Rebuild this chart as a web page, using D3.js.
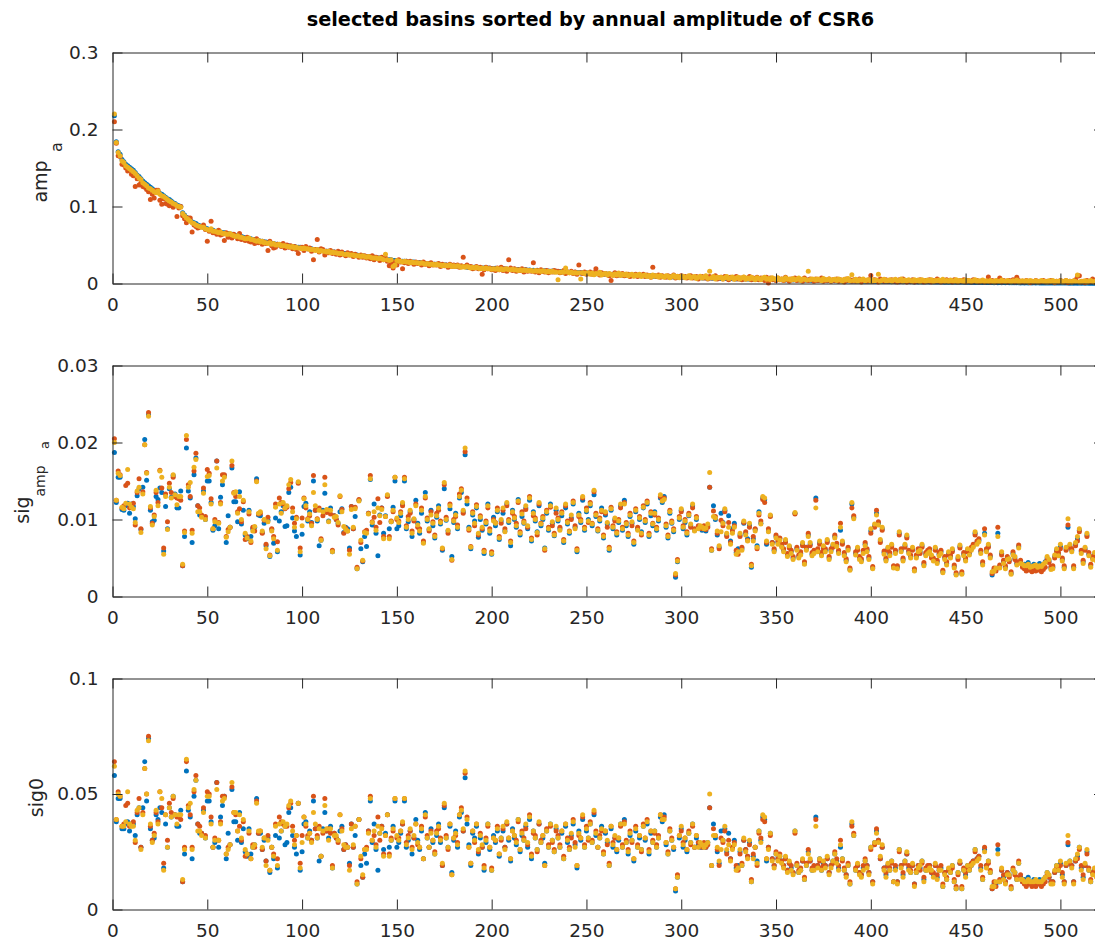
<!DOCTYPE html>
<html><head><meta charset="utf-8">
<script src="https://cdn.jsdelivr.net/npm/d3@7/dist/d3.min.js"></script>
<style>body{margin:0;background:#fff}svg{display:block}</style>
</head><body>
<svg id="chart" width="1095" height="942"></svg>
<script>
// ---- data ----
const titleText = "selected basins sorted by annual amplitude of CSR6";
const xTickValues = [0,50,100,150,200,250,300,350,400,450,500];
const seriesNames = ["blue","red","yellow"];

// amp_a, units of 1e-3
const ampBlue = [
218,184,171,168,161,158,155,153,151,149,
147,144,141,139,136,133,131,129,127,125,
123,121,120,119,117,116,114,112,110,109,
107,105,104,102,101,100,92,89,86,84,
82,80,79,78,76,75,74,73,72,71,
70,70,69,68,68,67,67,66,66,65,
65,64,64,63,62,62,61,61,60,59,
59,58,58,57,57,56,56,55,55,54,
54,53,53,52,52,51,51,50,50,50,
49,49,49,48,48,48,47,47,47,46,
46,46,45,45,45,44,44,44,43,43,
43,42,42,42,41,41,41,40,40,40,
39,39,39,38,38,38,37,37,37,36,
36,36,35,35,35,34,34,34,33,33,
33,32,32,32,31,31,31,30,30,30,
30,29,29,29,29,28,28,28,28,27,
27,27,27,26,26,26,26,25,25,25,
25,25,24,24,24,24,23,23,23,23,
23,22,22,22,22,22,21,21,21,21,
21,21,20,20,20,20,20,20,19.8,19.6,
19.5,19.8,19.0,19.4,18.7,19.1,18.6,18.9,18.3,18.6,
18.2,18.5,17.9,18.3,17.7,18.1,17.4,17.8,17.2,17.6,
17.0,17.3,16.7,17.1,16.4,16.9,16.1,16.6,15.9,16.3,
15.6,16.1,15.3,15.8,15.1,15.5,14.8,15.3,14.6,15.0,
14.3,14.8,14.1,14.5,13.8,14.3,13.6,14.0,13.3,13.8,
13.1,13.6,12.9,13.3,12.6,13.1,12.4,12.8,12.1,12.6,
11.9,12.4,11.7,12.1,11.4,11.9,11.2,11.7,11.0,11.4,
10.8,11.2,10.6,11.0,10.4,10.8,10.2,10.6,10.0,10.4,
9.8,10.2,9.6,10.0,9.4,9.8,9.2,9.6,9.0,9.4,
8.9,9.2,8.7,9.0,8.5,8.9,8.3,8.7,8.2,8.5,
8.0,8.4,7.9,8.2,7.7,8.1,7.6,7.9,7.4,7.8,
7.3,7.6,7.1,7.5,7.0,7.3,6.8,7.2,6.7,7.0,
6.6,6.9,6.4,6.8,6.3,6.6,6.2,6.5,6.0,6.4,
5.9,6.2,5.8,6.1,5.7,6.0,5.6,5.9,5.5,5.8,
5.4,5.7,5.3,5.6,5.2,5.5,5.1,5.4,5.0,5.3,
4.9,5.2,4.8,5.1,4.7,5.0,4.6,4.9,4.5,4.8,
4.4,4.7,4.3,4.6,4.2,4.5,4.1,4.4,4.0,4.3,
3.9,4.2,3.8,4.1,3.7,4.0,3.6,3.9,3.5,3.8,
3.5,3.7,3.4,3.6,3.3,3.6,3.2,3.5,3.1,3.4,
3.1,3.3,3.0,3.3,2.9,3.2,2.8,3.1,2.8,3.0,
2.7,3.0,2.6,2.9,2.6,2.8,2.5,2.8,2.5,2.7,
2.4,2.7,2.4,2.6,2.3,2.6,2.3,2.5,2.2,2.5,
2.2,2.4,2.1,2.4,2.1,2.3,2.0,2.3,2.0,2.2,
1.9,2.2,1.9,2.1,1.8,2.1,1.8,2.0,1.7,2.0,
1.7,1.9,1.6,1.9,1.6,1.8,1.5,1.8,1.5,1.7,
1.5,1.7,1.4,1.6,1.4,1.6,1.3,1.5,1.3,1.5,
1.2,1.4,1.2,1.4,1.1,1.3,1.1,1.3,1.0,1.2,
1.0,1.2,1.0,1.1,0.9,1.1,0.9,1.0,0.8,1.0,
0.8,1.0,0.8,0.9,0.7,0.9,0.7,0.9,0.7,0.8,
0.6,0.8,0.6,0.8,0.6,0.7,0.5,0.7,0.5,0.7,
0.5,0.6,0.5,0.6,0.4,0.6,0.4,0.5,0.4,0.5,
0.4,0.5,0.3,0.5,0.3,0.4,0.3,0.4,0.3,0.4];

const ampRed = [
210,182,166,165,155,154,150,146,147,142,
140,126,136,128,131,126,125,122,119,109,
116,111,121,121,108,103,110,104,103,101,
104,99,101,87,98,100,88,84,79,85,
85,67,76,74,72,73,74,76,70,55,
68,81,66,67,64,69,63,64,56,66,
60,63,59,64,61,58,65,57,58,56,
60,55,54,56,52,58,53,55,51,54,
52,43,55,49,46,47,51,50,48,52,
46,50,47,49,45,48,44,39,46,47,
43,48,45,46,42,31,44,57,41,45,
44,37,42,40,43,39,41,38,42,37,
41,38,36,40,37,39,35,38,36,34,
37,34,36,33,35,32,36,31,34,33,
30,34,31,33,29,23,26,20,28,24,
31,28,19,27,29,26,29,27,25,28,
26,27,24,28,25,26,23,27,24,25,
24,26,22,25,23,24,21,25,22,24,
22,24,21,23,34,22,24,21,22,19,
20,22,19,21,12,18,21,19,20,18,
19,17,20,18,21,17,19,16,31,20,
17,19,16,18,17,19,15,18,16,17,
16,27,15,17,14,18,16,15,17,14,
16,15,17,16,16,14,15,17,13,15,
14,16,13,15,12,24,14,13,15,12,
13,15,12,14,19,13,11,14,12,13,
12,10,4,11,14,10,12,11,13,10,
11,12,9,11,10,12,9,11,10,12,
9,11,10,8,21,10,9,11,8,10,
9,8,10,8,9,11,7,9,8,10,
8,9,7,9,10,7,8,9,6,8,
9,7,8,6,9,7,8,10,6,7,
8,6,9,7,5,8,7,6,9,6,
7,5,8,6,7,9,5,7,6,8,
5,7,6,4,8,0.5,7,5,6,4,
7,5,6,4,8,5,3,6,5,7,
4,6,5,3,7,5,4,6,5,3,
6,4,5,7,3,5,4,6,3,5,
4,6,3,5,4,2,6,4,5,3,
5,3,4,6,2,5,4,3,5,10.5,
3,5,4,2,6,4,3,5,3,4,
5,3,4,2,5,3,6,4,2,4,
3,5,2,4,3,5,4,2,4,3,
5,2,4,3,6,3,2,4,3,5,
3,4,2,5,3,2,4,3,5,2,
4,3,2,5,3,4,2,3,4,2,
3,8.5,2,4,3,2,4,7,2,4,
3,2,4,3,5,2,8,4,2,3,
2,4,3,1,3,2,4,3,2,3,
4,2,3,2,4,3,1,3,2,4,
3,2,4,1,3,2,3,5,9.5,10,
2,3,1,4,2,3,6,2,3,2];

const ampYellow = [
220,183,170,166,159,157,153,151,149,147,
145,143,140,137,135,131,129,127,124,123,
121,119,118,120,116,114,113,111,109,107,
106,104,103,101,100,99,91,88,85,83,
81,79,78,76,75,74,73,73,71,70,
69,71,68,68,67,66,67,65,65,64,
64,65,63,62,61,62,60,60,59,58,
58,59,57,57,56,55,56,54,55,53,
53,52,53,51,52,50,50,51,49,49,
49,48,48,47,48,46,47,46,46,45,
46,45,45,44,44,44,43,44,42,43,
42,42,41,42,40,41,40,40,39,39,
39,38,38,38,37,37,37,36,36,36,
35,36,35,34,35,34,33,33,33,32,
33,32,31,38,31,30,31,22,24,30,
29,29,28,29,28,28,27,28,27,27,
27,26,27,26,25,26,25,25,25,24,
25,24,24,23,24,23,23,24,22,23,
22,23,22,21,22,21,22,21,20,21,
20,21,20,19,20,19,20,19,19,18.5,
19,18.5,19.5,18,19,18,18.5,19,18,18,
18.5,17.5,18,17,18,17,17.5,17,17,16.5,
17,16,17,16,16.5,15.5,16.5,16,15,16,
15,16,15,14.5,5,14.5,15,14.5,20,15,
14,14.5,13.5,14,13.5,14,6,14,13,13.5,
14,12,13.5,11.5,13,12.5,14.5,11,12.5,13,
11,13,12,10.5,12.5,11,13.5,10.5,12,11,
12.5,10,11.5,12,9.5,11,10.5,12,9,10.5,
11,9,10.5,8.5,11,9.5,10,8.5,10.5,9,
8,10,9.5,7.5,9,10.5,8,9.5,7.5,9,
9.5,7.5,8.5,10,7,8.5,9,6.5,8,9.5,
7,8.5,10,6.5,16,7.5,9,6,8,7.5,
8,6,7.5,9,6.5,7,8.5,5.5,7,8,
6,7.5,8.5,5.5,7,6,8,6.5,5,7.5,
6.5,5,7,8,5.5,6.5,5,7.5,6,5.5,
7,5,6,4.5,7.5,5.5,6,4.5,6.5,5,
5.5,7,4,6,5.5,4.5,16,5,6,5.5,
4.5,6,5,3.5,6.5,4.5,5,6,3.5,5,
5.5,4,6,4.5,3,5.5,4.5,6.5,3.5,11.5,
4,5.5,3,5,4.5,6,3.5,4.5,5,3,
5,3.5,4.5,12,3,4.5,5.5,3.5,4,5,
3,4.5,5.5,3.5,4,6,3,4.5,3.5,5,
4,3,5,3.5,4.5,2.5,5,4,3,4.5,
3.5,5,2.5,4,3.5,4.5,3,5.5,3,4,
2.5,4.5,3.5,3,5,2.5,4,3.5,2.5,4.5,
3,4,2.5,3.5,5,2.5,3.5,3,4.5,2.5,
3.5,2.5,4,3,2,4,3,2.5,4.5,3,
2.5,4,3,2,3.5,3,4.5,2,3,3.5,
2.5,3.5,2,4,3,2.5,3.5,2,3,4,
2.5,3,2,3.5,2.5,4,2,3,2.5,3.5,
2,3,4,2.5,3,2,3.5,2.5,11,2,
3,2.5,3.5,2,3,4,2.5,2,3.5,2.5];

// sig_amp_a, units of 1e-4
const sigAmpBlue = [
187,122,155,155,113,112,118,121,108,120,
117,101,131,140,87,142,204,151,236,112,
97,99,130,126,141,135,59,117,88,140,
129,157,133,115,115,137,40,78,193,137,
128,70,158,180,118,106,105,137,100,150,
150,122,86,92,176,88,129,145,157,70,
105,90,167,123,123,97,136,94,112,80,
75,112,78,88,90,153,106,105,83,95,
66,99,52,87,69,102,58,98,110,118,
91,92,135,142,102,85,78,148,54,81,
117,121,98,110,96,150,112,98,66,73,
112,134,110,98,115,58,105,100,95,110,
114,83,90,88,63,117,88,104,36,125,
62,45,78,65,108,152,93,120,82,53,
106,115,82,105,131,88,97,116,150,88,
92,105,120,150,88,97,110,78,100,125,
95,82,108,70,135,98,87,112,92,76,
103,118,94,60,140,99,85,114,52,96,
108,88,128,135,110,184,120,90,62,106,
98,115,77,100,86,56,94,120,82,55,
103,92,110,74,98,108,85,120,96,66,
112,100,90,126,80,104,95,115,88,125,
72,110,98,84,118,92,100,63,108,86,
120,95,79,112,98,88,105,70,115,94,
82,102,120,90,58,108,96,125,86,110,
100,118,92,132,104,85,98,115,76,106,
94,60,112,88,100,80,96,118,86,125,
92,78,104,95,68,110,88,100,84,115,
96,120,78,105,92,110,86,98,128,122,
130,90,76,108,95,84,25,45,100,112,
88,96,80,105,92,118,86,100,90,88,
86,90,85,92,142,60,118,100,80,64,
108,96,112,80,105,72,88,95,57,62,
80,62,95,82,75,93,38,75,87,66,
110,95,128,126,68,85,105,70,60,78,
70,75,66,60,72,54,65,58,50,108,
62,52,56,68,43,62,80,68,55,58,
128,60,70,55,64,60,72,50,60,66,
78,67,58,86,70,55,47,62,35,120,
103,56,62,50,47,58,68,60,50,85,
37,92,108,95,72,88,57,48,62,55,
66,38,58,38,82,60,48,66,78,58,
52,62,34,52,60,58,66,42,55,58,
60,52,48,62,45,55,58,32,50,43,
56,52,60,39,29,50,65,30,55,48,
60,56,62,66,82,70,73,58,43,82,
60,66,52,28,35,35,82,39,56,45,
38,50,47,30,56,50,43,65,45,40,
42,38,44,40,36,42,38,40,43,37,
41,45,50,46,37,38,52,60,55,65,
48,38,62,90,66,60,38,68,75,86,
58,45,62,80,55,40,50,55,48,52];

const sigAmpRed = [
205,125,163,158,115,118,144,147,115,118,
121,93,135,153,88,136,197,161,239,115,
95,106,135,122,164,141,63,133,97,147,
135,155,130,128,127,125,40,85,204,145,
130,86,163,186,118,115,106,141,104,165,
160,127,88,100,176,96,122,158,158,78,
87,90,170,135,130,110,114,97,123,74,
78,107,70,90,85,150,107,108,82,99,
68,103,54,88,78,120,71,128,122,120,
114,116,140,148,115,95,103,147,63,102,
128,115,101,105,95,157,112,101,115,75,
105,155,109,112,107,60,105,100,93,130,
113,82,89,85,60,117,88,116,38,126,
70,46,84,86,108,157,97,103,90,127,
96,115,78,104,130,78,98,110,155,100,
98,110,118,155,92,104,108,85,98,120,
90,88,115,72,128,102,85,110,97,80,
108,112,98,62,145,103,82,120,47,100,
104,93,133,140,108,188,128,86,65,110,
92,119,80,105,88,60,98,115,88,58,
100,96,115,78,95,112,88,118,100,72,
108,104,95,122,84,110,98,113,90,130,
76,105,102,80,120,95,104,60,112,90,
116,92,82,108,102,90,110,74,118,98,
85,100,124,92,62,104,100,128,90,115,
96,122,95,136,108,88,102,110,80,108,
90,64,116,92,98,84,100,115,90,122,
96,82,108,92,72,114,90,104,80,118,
100,124,82,110,95,106,90,102,130,126,
128,94,80,112,98,88,28,48,104,110,
92,100,84,108,90,115,88,104,92,90,
88,92,87,90,142,62,111,104,82,62,
99,92,110,78,96,70,85,92,60,55,
78,64,96,84,73,90,42,78,88,62,
106,98,126,122,70,88,104,70,62,80,
72,76,68,62,70,56,63,60,52,107,
64,54,58,66,45,64,82,66,57,60,
125,62,68,57,62,62,70,52,62,64,
80,69,60,95,68,57,49,64,37,115,
105,58,60,52,49,60,70,62,52,82,
39,90,112,97,70,86,59,50,60,57,
64,40,60,40,80,62,50,64,76,60,
54,60,36,54,62,56,64,44,57,60,
62,50,50,60,47,57,60,34,52,45,
54,54,58,41,31,48,63,32,57,50,
58,58,64,68,80,72,75,60,45,88,
62,64,54,30,37,33,90,41,54,47,
40,52,45,32,58,48,45,67,47,38,
36,33,35,34,32,34,33,35,34,32,
35,38,48,44,39,40,50,58,57,62,
50,40,60,93,64,62,40,66,72,84,
60,47,60,78,57,42,52,53,50,54];

const sigAmpYellow = [
200,125,160,157,116,114,121,165,120,116,
114,96,137,142,83,133,197,160,234,117,
93,104,138,118,163,155,55,130,87,142,
128,158,132,119,130,130,42,83,209,142,
148,82,168,178,110,110,103,134,100,156,
157,120,88,97,167,95,120,150,155,77,
84,90,176,134,136,108,130,100,125,82,
76,110,72,85,91,149,108,110,85,100,
62,97,53,85,75,116,60,120,108,122,
115,118,145,152,110,90,101,149,58,92,
127,118,100,107,92,135,118,100,112,73,
110,145,113,97,112,58,103,104,96,131,
110,91,87,85,55,113,90,114,36,124,
73,47,83,82,107,153,96,110,86,115,
105,113,75,104,132,75,97,112,155,102,
96,108,122,153,90,100,112,82,101,118,
93,85,112,69,130,100,88,106,95,78,
105,115,96,63,148,100,86,118,48,98,
106,90,130,138,112,193,124,88,64,108,
95,117,82,103,90,58,96,118,85,56,
98,95,112,76,100,115,84,122,98,70,
110,102,92,124,82,107,96,118,92,128,
74,108,100,83,122,94,102,62,110,88,
118,97,80,115,100,86,108,72,120,96,
84,106,122,88,60,106,98,130,88,112,
98,120,94,138,106,86,100,112,78,110,
96,62,114,90,102,82,98,120,88,120,
94,80,106,97,70,112,86,102,82,116,
98,122,80,108,94,108,88,100,132,124,
126,92,78,110,96,86,30,46,102,114,
90,98,82,106,94,120,85,102,88,92,
90,88,89,94,161,60,104,102,85,66,
84,95,114,82,90,68,82,90,55,58,
82,60,98,80,72,95,40,72,85,64,
108,94,130,128,72,84,106,68,58,76,
68,73,64,58,74,52,66,56,48,109,
60,50,54,70,42,60,78,70,53,56,
115,58,72,53,66,58,74,48,58,68,
76,65,56,90,72,53,45,60,34,122,
101,54,64,48,45,56,66,58,48,88,
36,94,106,93,74,90,55,46,64,53,
68,37,56,36,84,58,46,68,80,56,
50,64,33,50,58,60,68,40,53,56,
58,54,46,64,43,53,56,31,48,41,
58,50,62,37,28,52,67,29,53,46,
62,54,60,64,84,68,71,56,41,80,
58,68,50,32,33,37,78,37,58,43,
36,48,49,29,54,52,41,63,43,42,
40,40,42,38,39,40,41,38,40,39,
42,44,52,48,35,36,54,62,53,68,
46,36,64,101,68,58,36,70,78,88,
56,43,64,82,53,38,48,57,46,50];

// sig0, units of 1e-3
const sig0Blue = [
58,38,48,48,35,35,37,38,34,37,
37,32,41,44,27,44,64,47,74,35,
30,31,41,39,44,42,18,37,27,44,
40,49,41,36,36,43,12,24,60,43,
40,22,49,56,37,33,33,43,31,47,
47,38,27,29,55,27,40,45,49,22,
33,28,52,38,38,30,42,29,35,25,
23,35,24,27,28,48,33,33,26,30,
21,31,16,27,22,32,18,31,34,37,
28,29,42,44,32,27,24,46,17,25,
37,38,31,34,30,47,35,31,21,23,
35,42,34,31,36,18,33,31,30,34,
36,26,28,27,20,37,27,32,11,39,
19,14,24,20,34,47,29,37,26,17,
33,36,26,33,41,27,30,36,47,27,
29,33,37,47,27,30,34,24,31,39,
30,26,34,22,42,31,27,35,29,24,
32,37,29,19,44,31,27,36,16,30,
34,27,40,42,34,57,37,28,19,33,
31,36,24,31,27,17,29,37,26,17,
32,29,34,23,31,34,27,37,30,21,
35,31,28,39,25,32,30,36,27,39,
22,34,31,26,37,29,31,20,34,27,
37,30,25,35,31,27,33,22,36,29,
26,32,37,28,18,34,30,39,27,34,
31,37,29,41,32,27,31,36,24,33,
29,19,35,27,31,25,30,37,27,39,
29,24,32,30,21,34,27,31,26,36,
30,37,24,33,29,34,27,31,40,38,
41,28,24,34,30,26,8,14,31,35,
27,30,25,33,29,37,27,31,28,27,
27,28,27,29,44,19,37,31,25,20,
34,30,35,25,33,22,27,30,18,19,
25,19,30,26,23,29,12,23,27,21,
34,30,40,39,21,27,33,22,19,24,
22,23,21,19,22,17,20,18,16,34,
19,16,17,21,13,19,25,21,17,18,
40,19,22,17,20,19,22,16,19,21,
24,21,18,27,22,17,15,19,11,37,
32,17,19,16,15,18,21,19,16,27,
12,29,34,30,22,27,18,15,19,17,
21,12,18,12,26,19,15,21,24,18,
16,19,11,16,19,18,21,13,17,18,
19,16,15,19,14,17,18,10,16,13,
17,16,19,12,9,16,20,9,17,15,
19,17,19,21,26,22,23,18,13,26,
19,21,16,9,11,11,26,12,17,14,
12,16,15,9,17,16,13,20,14,12,
13,12,14,12,11,13,12,12,13,12,
13,14,16,14,12,12,16,19,17,20,
15,12,19,28,21,19,12,21,23,27,
18,14,19,25,17,12,16,17,15,16];

const sig0Red = [
64,39,51,49,36,37,45,46,36,37,
38,29,42,48,27,42,61,50,75,36,
30,33,42,38,51,44,20,41,30,46,
42,48,41,40,40,39,12,27,64,45,
41,27,51,58,37,36,33,44,32,51,
50,40,27,31,55,30,38,49,49,24,
27,28,53,42,41,34,36,30,38,23,
24,33,22,28,27,47,33,34,26,31,
21,32,17,27,24,37,22,40,38,37,
36,36,44,46,36,30,32,46,20,32,
40,36,32,33,30,49,35,32,36,23,
33,48,34,35,33,19,33,31,29,41,
35,26,28,27,19,37,27,36,12,39,
22,14,26,27,34,49,30,32,28,40,
30,36,24,32,41,24,31,34,48,31,
31,34,37,48,29,32,34,27,31,37,
28,27,36,22,40,32,27,34,30,25,
34,35,31,19,45,32,26,37,15,31,
32,29,41,44,34,59,40,27,20,34,
29,37,25,33,27,19,31,36,27,18,
31,30,36,24,30,35,27,37,31,22,
34,32,30,38,26,34,31,35,28,41,
24,33,32,25,37,30,32,19,35,28,
36,29,26,34,32,28,34,23,37,31,
27,31,39,29,19,32,31,40,28,36,
30,38,30,42,34,27,32,34,25,34,
28,20,36,29,31,26,31,36,28,38,
30,26,34,29,22,36,28,32,25,37,
31,39,26,34,30,33,28,32,41,39,
40,29,25,35,31,27,9,15,32,34,
29,31,26,34,28,36,27,32,29,28,
27,29,27,28,44,19,35,32,26,19,
31,29,34,24,30,22,27,29,19,17,
24,20,30,26,23,28,13,24,27,19,
33,31,39,38,22,27,32,22,19,25,
22,24,21,19,22,17,20,19,16,33,
20,17,18,21,14,20,26,21,18,19,
39,19,21,18,19,19,22,16,19,20,
25,22,19,30,21,18,15,20,12,36,
33,18,19,16,15,19,22,19,16,26,
12,28,35,30,22,27,18,16,19,18,
20,12,19,12,25,19,16,20,24,19,
17,19,11,17,19,17,20,14,18,19,
19,16,16,19,15,18,19,11,16,14,
17,17,18,13,10,15,20,10,18,16,
18,18,20,21,25,22,23,19,14,27,
19,20,17,9,12,10,28,13,17,15,
12,16,14,10,18,15,14,21,15,12,
11,10,11,11,10,11,10,11,11,10,
11,12,15,14,12,12,16,18,18,19,
16,12,19,29,20,19,12,21,22,26,
19,15,19,24,18,13,16,17,16,17];

const sig0Yellow = [
62,39,50,49,36,36,38,51,37,36,
36,30,43,44,26,41,61,50,73,37,
29,32,43,37,51,48,17,41,27,44,
40,49,41,37,41,41,13,26,65,44,
46,26,52,56,34,34,32,42,31,49,
49,37,27,30,52,30,37,47,48,24,
26,28,55,42,42,34,41,31,39,26,
24,34,22,27,28,46,34,34,27,31,
19,30,17,27,23,36,19,37,34,38,
36,37,45,47,34,28,32,46,18,29,
40,37,31,33,29,42,37,31,35,23,
34,45,35,30,35,18,32,32,30,41,
34,28,27,27,17,35,28,36,11,39,
23,15,26,26,33,48,30,34,27,36,
33,35,23,32,41,23,30,35,48,32,
30,34,38,48,28,31,35,26,32,37,
29,27,35,22,41,31,27,33,30,24,
33,36,30,20,46,31,27,37,15,31,
33,28,41,43,35,60,39,27,20,34,
30,37,26,32,28,18,30,37,27,17,
31,30,35,24,31,36,26,38,31,22,
34,32,29,39,26,33,30,37,29,40,
23,34,31,26,38,29,32,19,34,27,
37,30,25,36,31,27,34,22,37,30,
26,33,38,27,19,33,31,41,27,35,
31,37,29,43,33,27,31,35,24,34,
30,19,36,28,32,26,31,37,27,37,
29,25,33,30,22,35,27,32,26,36,
31,38,25,34,29,34,27,31,41,39,
39,29,24,34,30,27,9,14,32,36,
28,31,26,33,29,37,27,32,27,29,
28,27,28,29,50,19,32,32,27,21,
26,30,36,26,28,21,26,28,17,18,
26,19,31,25,22,30,12,22,27,20,
34,29,41,40,22,26,33,21,18,24,
21,23,20,18,23,16,21,17,15,34,
19,16,17,22,13,19,24,22,17,17,
36,18,22,17,21,18,23,15,18,21,
24,20,17,28,22,17,14,19,11,38,
32,17,20,15,14,17,21,18,15,27,
11,29,33,29,23,28,17,14,20,17,
21,12,17,11,26,18,14,21,25,17,
16,20,10,16,18,19,21,12,17,17,
18,17,14,20,13,17,17,10,15,13,
18,16,19,12,9,16,21,9,17,14,
19,17,19,20,26,21,22,17,13,25,
18,21,16,10,10,12,24,12,18,13,
11,15,15,9,17,16,13,20,13,13,
12,12,13,12,12,12,13,12,12,12,
13,14,16,15,11,11,17,19,17,21,
14,11,20,32,21,18,11,22,24,27,
17,13,20,26,17,12,15,18,14,16];

// ---- drawing ----
const N = ampBlue.length;
const basin = d3.range(1, N + 1);
const colors = ["#0072BD", "#D95319", "#EDB120"];
const ink = "#262626";
const FONT = "'DejaVu Sans', 'Liberation Sans', Arial, sans-serif";

const svg = d3.select("#chart");
const x = d3.scaleLinear().domain([0, 523]).range([112.5, 1104]);

const panels = [
  {top: 52.5, bottom: 283.5, max: 0.3, unit: 1e-3,
   yTicks: [0, 0.1, 0.2, 0.3], yLabels: ["0", "0.1", "0.2", "0.3"],
   data: [ampBlue, ampRed, ampYellow]},
  {top: 365.5, bottom: 596.5, max: 0.03, unit: 1e-4,
   yTicks: [0, 0.01, 0.02, 0.03], yLabels: ["0", "0.01", "0.02", "0.03"],
   data: [sigAmpBlue, sigAmpRed, sigAmpYellow]},
  {top: 678.5, bottom: 909.5, max: 0.1, unit: 1e-3,
   yTicks: [0, 0.05, 0.1], yLabels: ["0", "0.05", "0.1"],
   data: [sig0Blue, sig0Red, sig0Yellow]}
];

function styleAxis(g) {
  g.attr("font-family", FONT).attr("font-size", 18.5).attr("color", ink);
  g.selectAll("path.domain").attr("stroke", ink).attr("stroke-width", 1);
  g.selectAll(".tick line").attr("stroke", ink).attr("stroke-width", 1);
  g.selectAll(".tick text").attr("fill", ink);
}

panels.forEach(p => {
  const y = d3.scaleLinear().domain([0, p.max]).range([p.bottom, p.top]);
  const plot = svg.append("g");
  p.data.forEach((arr, k) => {
    plot.append("g").attr("class", "series-" + seriesNames[k])
      .selectAll("circle").data(arr).join("circle")
      .attr("cx", (d, i) => x(basin[i]))
      .attr("cy", d => y(d * p.unit))
      .attr("r", 2.5)
      .attr("fill", colors[k]);
  });
  const ax = svg.append("g");
  ax.append("g").attr("transform", `translate(0,${p.bottom})`)
    .call(d3.axisBottom(x).tickValues(xTickValues).tickSize(-10).tickSizeOuter(0)
      .tickPadding(14).tickFormat(d3.format("d"))).call(styleAxis);
  ax.append("g").attr("transform", `translate(0,${p.top})`)
    .call(d3.axisTop(x).tickValues(xTickValues).tickSize(-10).tickSizeOuter(0)
      .tickFormat("")).call(styleAxis);
  ax.append("g").attr("transform", `translate(${x.range()[0]},0)`)
    .call(d3.axisLeft(y).tickValues(p.yTicks).tickSize(-10).tickSizeOuter(0)
      .tickPadding(14).tickFormat((d, i) => p.yLabels[i])).call(styleAxis);
  ax.append("g").attr("transform", `translate(${x.range()[1]},0)`)
    .call(d3.axisRight(y).tickValues(p.yTicks).tickSize(-10).tickSizeOuter(0)
      .tickFormat("")).call(styleAxis);
});

// title
svg.append("text").attr("x", 590.5).attr("y", 26)
  .attr("text-anchor", "middle").attr("font-family", FONT)
  .attr("font-weight", "bold").attr("font-size", 19.3).attr("fill", "#000")
  .text(titleText);

// y labels (rotated)
function vtext(bx, cy, txt, size) {
  svg.append("text").attr("transform", `translate(${bx},${cy}) rotate(-90)`)
    .attr("text-anchor", "middle").attr("font-family", FONT)
    .attr("font-size", size).attr("fill", ink).text(txt);
}
vtext(47, 181.5, "amp", 19);
vtext(62, 147, "a", 16);
vtext(29, 510, "sig", 19);
vtext(45, 481, "amp", 14);
vtext(49, 445, "a", 13);
vtext(43, 797.5, "sig0", 19);
</script>
</body></html>
